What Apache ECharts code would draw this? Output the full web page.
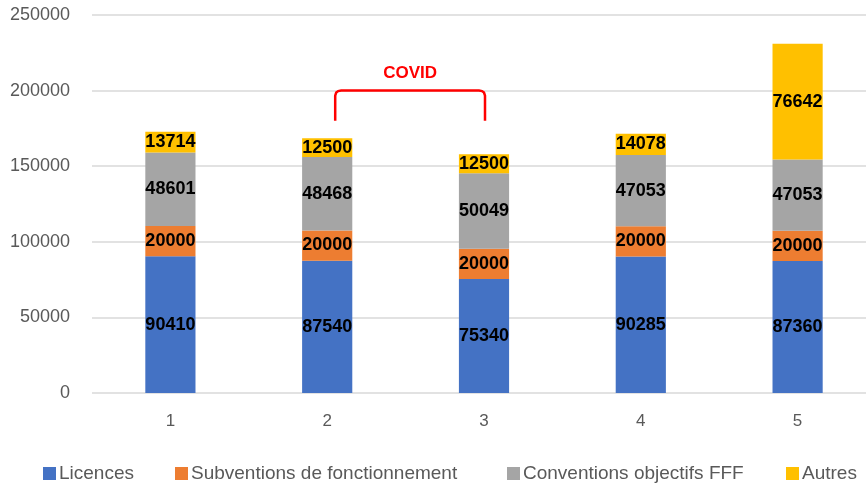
<!DOCTYPE html>
<html>
<head>
<meta charset="utf-8">
<script src="https://cdn.jsdelivr.net/npm/echarts@6/dist/echarts.min.js"></script>
<style>
  html, body { margin: 0; padding: 0; background: #fff; }
  #chart { width: 866px; height: 486px; }
</style>
</head>
<body>
<div id="chart"></div>
<script>
const categories = ['1', '2', '3', '4', '5']
const licences = [90410, 87540, 75340, 90285, 87360]
const subventions = [20000, 20000, 20000, 20000, 20000]
const conventions = [48601, 48468, 50049, 47053, 47053]
const autres = [13714, 12500, 12500, 14078, 76642]
const seriesNames = ['Licences', 'Subventions de fonctionnement', 'Conventions objectifs FFF', 'Autres']
const colors = ['#4472C4', '#ED7D31', '#A5A5A5', '#FFC000']
// accolade "COVID" au-dessus des années 2 et 3
const covidFrom = '2'
const covidTo = '3'
const covidTop = 200000
const covidBottom = 180000

const font = '"Liberation Sans", Arial, sans-serif'
const legendLeft = [43, 175, 507, 786]

const chart = echarts.init(document.getElementById('chart'))

function makeSeries(name, data, color) {
  return {
    name: name,
    type: 'bar',
    stack: 'total',
    barWidth: '32%',
    data: data,
    itemStyle: { color: color },
    label: {
      show: true,
      position: 'inside',
      color: '#000',
      fontWeight: 'bold',
      fontSize: 18,
      fontFamily: font
    }
  }
}

chart.setOption({
  animation: false,
  color: colors,
  grid: { left: 92, top: 15, width: 784, height: 378, outerBoundsMode: 'none' },
  legend: seriesNames.map((name, i) => ({
    data: [name],
    left: legendLeft[i],
    top: 464,
    padding: 0,
    itemWidth: 13,
    itemHeight: 13,
    icon: 'rect',
    textStyle: { fontSize: 19, color: '#595959', fontFamily: font, padding: [0, 0, 0, -2] }
  })),
  xAxis: {
    type: 'category',
    data: categories,
    axisLine: { show: false },
    axisTick: { show: false },
    axisLabel: { fontSize: 17, color: '#595959', margin: 20, fontFamily: font }
  },
  yAxis: {
    type: 'value',
    min: 0,
    max: 250000,
    interval: 50000,
    axisLine: { show: false },
    axisTick: { show: false },
    splitLine: { lineStyle: { color: '#d9d9d9', width: 1.5 } },
    axisLabel: { fontSize: 18, color: '#595959', margin: 22, fontFamily: font, formatter: v => String(v) }
  },
  series: [
    makeSeries(seriesNames[0], licences, colors[0]),
    makeSeries(seriesNames[1], subventions, colors[1]),
    makeSeries(seriesNames[2], conventions, colors[2]),
    makeSeries(seriesNames[3], autres, colors[3])
  ]
})

// accolade COVID, positionnée via les axes
const p1 = chart.convertToPixel({ gridIndex: 0 }, [covidFrom, covidTop])
const p2 = chart.convertToPixel({ gridIndex: 0 }, [covidTo, covidBottom])
const x1 = p1[0] + 8
const x2 = p2[0] + 1
const yTop = p1[1]
const yBot = p2[1]
chart.setOption({
  graphic: [
    {
      type: 'polyline',
      shape: {
        points: [
          [x1, yBot], [x1, yTop + 5], [x1 + 1, yTop + 2], [x1 + 3, yTop + 0.5], [x1 + 6, yTop],
          [x2 - 6, yTop], [x2 - 3, yTop + 0.5], [x2 - 1, yTop + 2], [x2, yTop + 5], [x2, yBot]
        ]
      },
      style: { fill: null, stroke: '#FF0000', lineWidth: 2.5 }
    },
    {
      type: 'text',
      x: (x1 + x2) / 2,
      y: yTop - 17,
      style: {
        text: 'COVID',
        fill: '#FF0000',
        font: 'bold 17px ' + font,
        align: 'center',
        verticalAlign: 'middle'
      }
    }
  ]
})
</script>
</body>
</html>
